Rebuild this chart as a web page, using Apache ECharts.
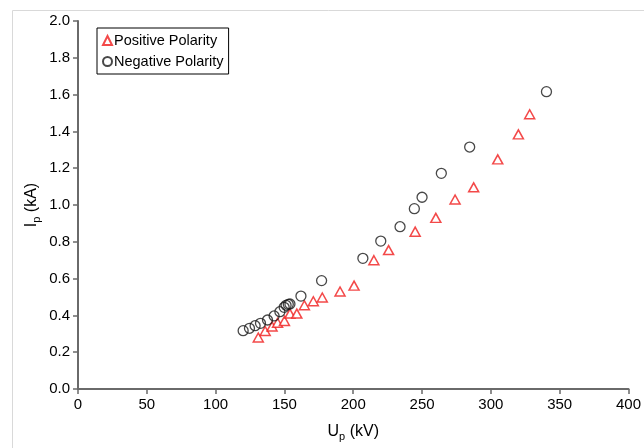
<!DOCTYPE html>
<html>
<head>
<meta charset="utf-8">
<script src="https://cdn.jsdelivr.net/npm/echarts@6/dist/echarts.min.js"></script>
<style>html,body{margin:0;padding:0;background:#fff;}#c{width:644px;height:448px;}</style>
</head>
<body>
<div id="c"></div>
<script>
var posU = [131, 136, 141, 145, 150, 154, 159, 164.5, 171, 177.5, 190.4, 200.6, 215, 225.7, 245, 260, 274, 287.5, 305, 320, 328.2];
var posI = [0.28, 0.315, 0.34, 0.36, 0.37, 0.41, 0.41, 0.455, 0.477, 0.497, 0.53, 0.562, 0.70, 0.755, 0.855, 0.93, 1.03, 1.096, 1.248, 1.384, 1.493];
var negU = [120, 124.6, 128.7, 132.6, 137.7, 142.5, 146.7, 149.8, 151.2, 152.8, 154, 162, 177, 207, 220, 234, 244.4, 250, 264, 284.6, 340.4];
var negI = [0.317, 0.33, 0.344, 0.357, 0.375, 0.397, 0.42, 0.444, 0.455, 0.46, 0.462, 0.505, 0.589, 0.71, 0.804, 0.882, 0.98, 1.042, 1.172, 1.315, 1.616];
var xTicks = [0, 50, 100, 150, 200, 250, 300, 350, 400];
var yTicks = [0.0, 0.2, 0.4, 0.6, 0.8, 1.0, 1.2, 1.4, 1.6, 1.8, 2.0];

function zip(a, b) { return a.map(function (v, i) { return [v, b[i]]; }); }

var chart = echarts.init(document.getElementById('c'), null, {renderer: 'canvas'});
var font = 'Liberation Sans, Arial, sans-serif';
var axisCol = '#6a6a6a';
chart.setOption({
  animation: false,
  textStyle: {fontFamily: font},
  graphic: [{
    type: 'rect', shape: {x: 12.5, y: 10.5, width: 700, height: 500},
    style: {fill: 'none', stroke: '#d9d9d9', lineWidth: 1}, z: -1
  }],
  grid: {left: 78, right: 15, top: 21, bottom: 59},
  legend: {
    left: 97, top: 28, orient: 'vertical',
    borderColor: '#000', borderWidth: 1, borderRadius: 0,
    padding: [5, 5, 5, 5], itemGap: 6, itemWidth: 9, itemHeight: 9,
    textStyle: {fontSize: 14.5, color: '#000', fontFamily: font, padding: [0, 0, 0, -3]},
    data: [{name: 'Positive Polarity', icon: 'triangle'}, {name: 'Negative Polarity', icon: 'circle'}]
  },
  xAxis: {
    type: 'value', min: xTicks[0], max: xTicks[xTicks.length - 1], interval: 50,
    name: '{a|U}{s|p}{a| (kV)}', nameLocation: 'middle', nameGap: 33, nameMoveOverlap: false,
    nameTextStyle: {rich: {a: {fontSize: 16, color: '#000', fontFamily: font, lineHeight: 20}, s: {fontSize: 11, color: '#000', fontFamily: font, lineHeight: 20, padding: [10, 0, 0, 0]}}},
    axisLine: {show: true, lineStyle: {color: axisCol, width: 2}},
    axisTick: {show: true, inside: false, length: 5, lineStyle: {color: axisCol, width: 1.5}},
    axisLabel: {fontSize: 15, color: '#000', margin: 8},
    splitLine: {show: false}
  },
  yAxis: {
    type: 'value', min: yTicks[0], max: yTicks[yTicks.length - 1], interval: 0.2,
    name: '{a|I}{s|p}{a| (kA)}', nameLocation: 'middle', nameGap: 36, nameRotate: 90, nameMoveOverlap: false,
    nameTextStyle: {rich: {a: {fontSize: 16, color: '#000', fontFamily: font, lineHeight: 20}, s: {fontSize: 11, color: '#000', fontFamily: font, lineHeight: 20, padding: [10, 0, 0, 0]}}},
    axisLine: {show: true, lineStyle: {color: axisCol, width: 2}},
    axisTick: {show: true, inside: false, length: 5, lineStyle: {color: axisCol, width: 1.5}},
    axisLabel: {fontSize: 15, color: '#000', margin: 8, formatter: function (v) { return v.toFixed(1); }},
    splitLine: {show: false}
  },
  series: [{
    name: 'Positive Polarity', type: 'scatter', symbol: 'triangle', symbolSize: [10, 9],
    data: zip(posU, posI),
    itemStyle: {color: '#fff', borderColor: '#f01c1c', borderWidth: 1.5}
  }, {
    name: 'Negative Polarity', type: 'scatter', symbol: 'circle', symbolSize: 10,
    data: zip(negU, negI),
    itemStyle: {color: 'rgba(255,255,255,0)', borderColor: '#1a1a1a', borderWidth: 1.3}
  }]
});
</script>
</body>
</html>
